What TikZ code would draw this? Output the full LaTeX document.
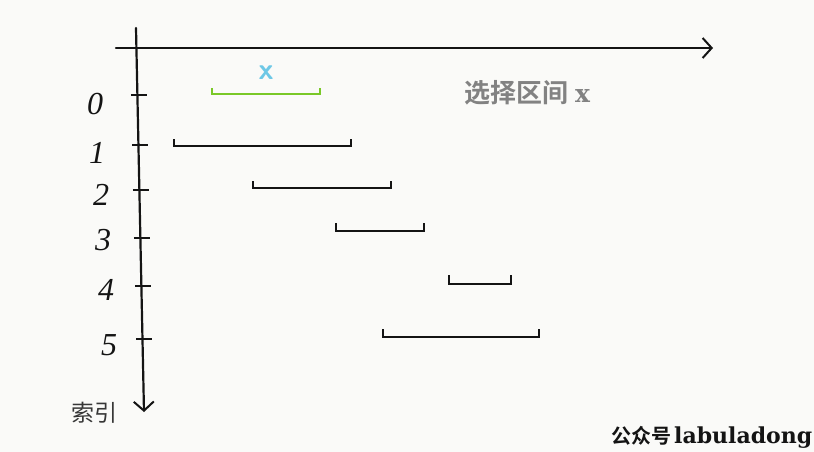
\documentclass[tikz,border=0pt]{standalone}
\usepackage{fontspec}
\setmainfont{Liberation Serif}
\newfontfamily\cjk{Noto Sans CJK SC}
\newfontfamily\cjkb{Noto Sans CJK SC}[BoldFont={* Bold}]
\newfontfamily\wmserif{DejaVu Serif}
\usetikzlibrary{arrows.meta}
\definecolor{bg}{RGB}{250,250,248}
\definecolor{ink}{RGB}{20,20,20}
\definecolor{xgreen}{RGB}{122,200,40}
\definecolor{xcyan}{RGB}{110,200,230}
\definecolor{lblgrey}{RGB}{130,130,130}
\begin{document}
\begin{tikzpicture}[x=1pt,y=-1pt,
  axis/.style={draw=ink,line width=2.2pt,line cap=round,
    -{Straight Barb[length=9pt,width=20pt,line width=2pt]}},
  tick/.style={draw=ink,line width=1.8pt},
  interval/.style={draw=ink,line width=2pt,line join=miter},
  idx/.style={font=\itshape\fontsize{32}{32}\selectfont,text=ink,inner sep=0pt},
]
\useasboundingbox[fill=bg] (0,0) rectangle (814,452);
% axes
\coordinate (hs) at (116,48);
\coordinate (he) at (713,48);
\coordinate (vs) at (136,28);
\coordinate (ve) at (144,412);
\draw[axis] (hs) -- (he);
\draw[axis] (vs) -- (ve);
% ticks
\foreach \y/\n in {95/0,145/1,190/2,238/3,286/4,339/5}{
  \draw[tick] ({129+\y*0.021},\y) -- ({145+\y*0.021},\y);
}
% index labels
\node[idx] (n0) at (95,104) {0};
\node[idx] (n1) at (97,153) {1};
\node[idx] (n2) at (101,195) {2};
\node[idx] (n3) at (103,240) {3};
\node[idx] (n4) at (106,290) {4};
\node[idx] (n5) at (109,345) {5};
% intervals
\draw[interval,draw=xgreen] (212,88) -- (212,94) -- (320,94) -- (320,88);
\draw[interval] (174,139) -- (174,146) -- (351,146) -- (351,139);
\draw[interval] (253,181) -- (253,188) -- (391,188) -- (391,181);
\draw[interval] (336,223) -- (336,231) -- (424,231) -- (424,223);
\draw[interval] (449,275) -- (449,284) -- (511,284) -- (511,275);
\draw[interval] (383,329) -- (383,337) -- (539,337) -- (539,329);
% labels
\node[text=xcyan,font=\sffamily\bfseries\fontsize{30}{30}\selectfont] (xl) at (266,73) {x};
\node[text=lblgrey,font=\cjkb\bfseries\fontsize{26}{26}\selectfont,anchor=west,inner sep=0pt] (sel) at (464,93) {选择区间\hspace{7pt}{\wmserif\bfseries\fontsize{25}{25}\selectfont x}};
\node[text=ink!85,font=\cjk\fontsize{23}{23}\selectfont,anchor=west,inner sep=0pt] (suoyin) at (71,413) {索引};
\node[text=ink,anchor=base west,inner sep=0pt] (wm) at (611,443) {{\cjkb\bfseries\fontsize{20}{20}\selectfont 公众号}\hspace{3pt}{\wmserif\bfseries\fontsize{22}{22}\selectfont labuladong}};
\end{tikzpicture}
\end{document}
